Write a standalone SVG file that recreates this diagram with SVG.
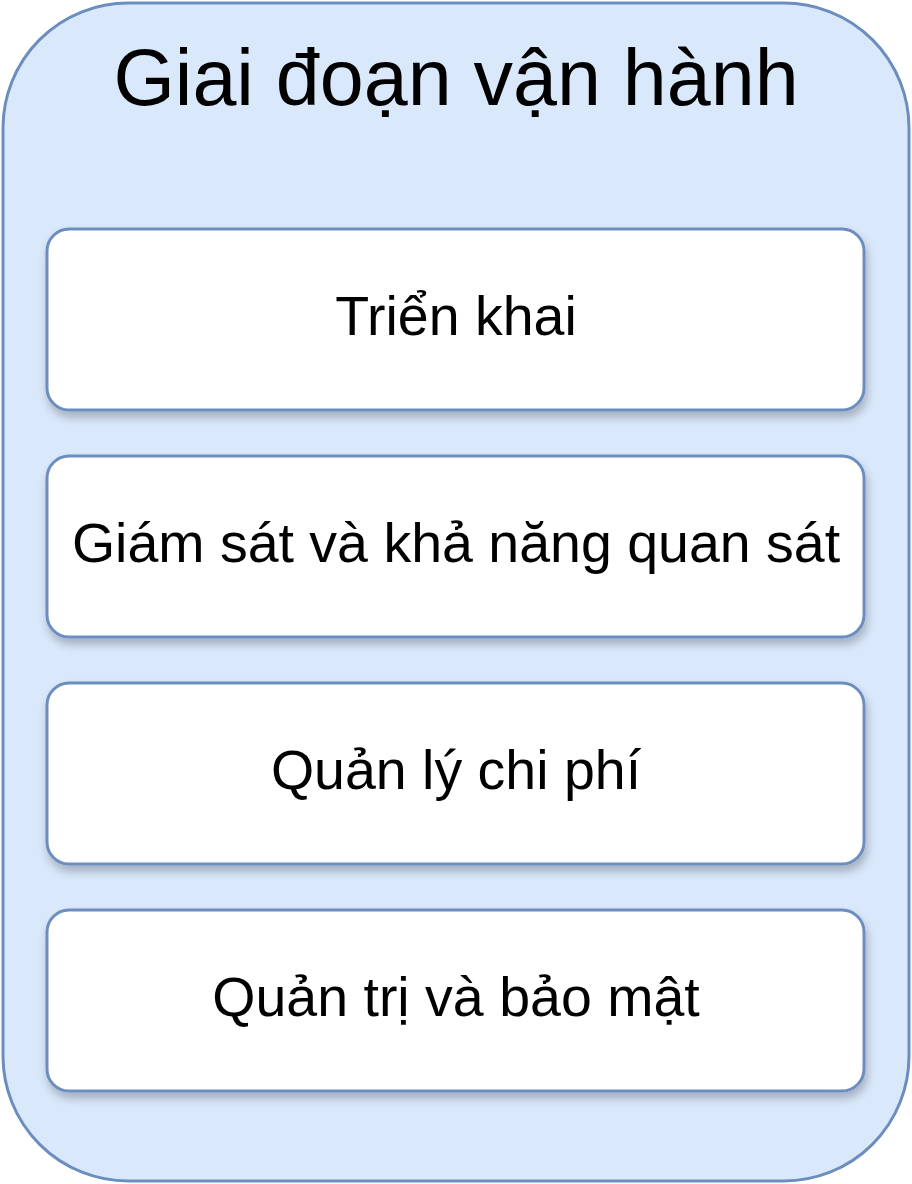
<svg xmlns="http://www.w3.org/2000/svg" width="912" height="1184" viewBox="0 0 912 1184">
<style>
.box{fill:#ffffff;stroke:#6c8ebf;stroke-width:3;}
.lbl{font-family:"Liberation Sans",Arial,sans-serif;font-size:55.5px;fill:#000000;text-anchor:middle;}
</style>
<defs>
<filter id="sh" x="-10%" y="-20%" width="120%" height="150%">
<feGaussianBlur in="SourceAlpha" stdDeviation="5"/>
<feOffset dx="2" dy="6" result="b"/>
<feComponentTransfer><feFuncA type="linear" slope="0.25"/></feComponentTransfer>
<feMerge><feMergeNode/><feMergeNode in="SourceGraphic"/></feMerge>
</filter>
</defs>
<rect width="912" height="1184" fill="#ffffff"/>
<g id="container">
<rect x="3" y="3" width="906" height="1178" rx="125" ry="125" fill="#dae8fc" stroke="#6c8ebf" stroke-width="3"/>
<text x="456" y="105" font-family="Liberation Sans,Arial,sans-serif" font-size="79" text-anchor="middle" fill="#000">Giai đoạn vận hành</text>
</g>
<g id="connectors"></g>
<g id="node1" filter="url(#sh)">
<rect class="box" x="47" y="229" width="817" height="181" rx="22" ry="22"/>
<text class="lbl" x="456" y="335">Triển khai</text>
</g>
<g id="node2" filter="url(#sh)">
<rect class="box" x="47" y="456" width="817" height="181" rx="22" ry="22"/>
<text class="lbl" x="456" y="562">Giám sát và khả năng quan sát</text>
</g>
<g id="node3" filter="url(#sh)">
<rect class="box" x="47" y="683" width="817" height="181" rx="22" ry="22"/>
<text class="lbl" x="456" y="789">Quản lý chi phí</text>
</g>
<g id="node4" filter="url(#sh)">
<rect class="box" x="47" y="910" width="817" height="181" rx="22" ry="22"/>
<text class="lbl" x="456" y="1016">Quản trị và bảo mật</text>
</g>
</svg>
